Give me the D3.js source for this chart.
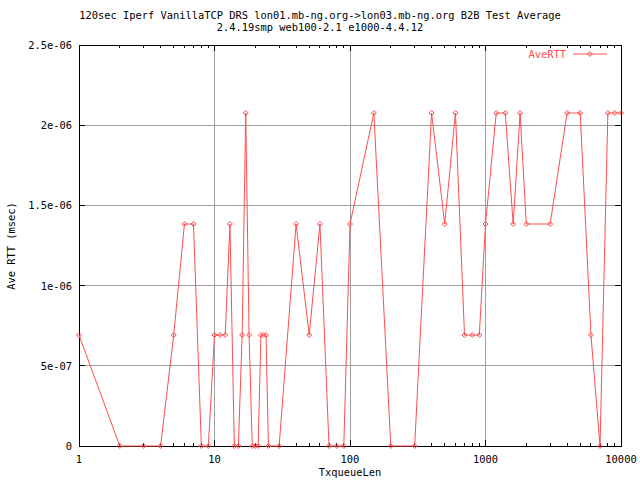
<!DOCTYPE html>
<html>
<head>
<meta charset="utf-8">
<script src="https://cdn.jsdelivr.net/npm/d3@7"></script>
<style>
  body { margin: 0; background: #fff; }
  svg { display: block; }
  text { font-family: "DejaVu Sans Mono", monospace; font-size: 10.4px; fill: #000; }
</style>
</head>
<body>
<svg id="chart" width="640" height="480"></svg>
<script>
// TxqueueLen values (x) and average RTT (y)
const queueLen = [1, 2, 3, 4, 5, 6, 7, 8, 9, 10, 11, 12, 13, 14, 15, 16, 17, 18, 19, 20,
  21, 22, 23, 24, 25, 30, 40, 50, 60, 70, 80, 90, 100, 150, 200, 300, 400, 500, 600, 700,
  800, 900, 1000, 1200, 1400, 1600, 1800, 2000, 3000, 4000, 5000, 6000, 7000, 8000, 9000, 10000];
const aveRTT = [6.92e-7, 0, 0, 0, 6.92e-7, 1.384e-6, 1.384e-6, 0, 0, 6.92e-7,
  6.92e-7, 6.92e-7, 1.384e-6, 0, 0, 6.92e-7, 2.076e-6, 6.92e-7, 0, 0,
  0, 6.92e-7, 6.92e-7, 6.92e-7, 0, 0, 1.384e-6, 6.92e-7, 1.384e-6, 0,
  0, 0, 1.384e-6, 2.076e-6, 0, 0, 2.076e-6, 1.384e-6, 2.076e-6, 6.92e-7,
  6.92e-7, 6.92e-7, 1.384e-6, 2.076e-6, 2.076e-6, 1.384e-6, 2.076e-6, 1.384e-6, 1.384e-6, 2.076e-6,
  2.076e-6, 6.92e-7, 0, 2.076e-6, 2.076e-6, 2.076e-6];

const xTicks = [1, 10, 100, 1000, 10000];
const yTicks = [0, 5e-7, 1e-6, 1.5e-6, 2e-6, 2.5e-6];
const yTickLabels = ['0', '5e-07', '1e-06', '1.5e-06', '2e-06', '2.5e-06'];

const titleLines = [
  '120sec Iperf VanillaTCP DRS lon01.mb-ng.org->lon03.mb-ng.org B2B Test Average',
  '2.4.19smp web100-2.1 e1000-4.4.12'
];

const red = '#ff4d4d';
const pLeft = 79, pRight = 621, pTop = 45, pBottom = 446;

const svg = d3.select('#chart');
const x = d3.scaleLog().domain([1, 10000]).range([pLeft, pRight]);
const y = d3.scaleLinear().domain([0, 2.5e-6]).range([pBottom, pTop]);

// grid
const grid = svg.append('g').attr('stroke', '#a0a0a0').attr('shape-rendering', 'crispEdges');
xTicks.slice(1, -1).forEach((t) => {
  grid.append('line').attr('x1', x(t)).attr('x2', x(t)).attr('y1', pTop).attr('y2', pBottom);
});
yTicks.slice(1, -1).forEach((t) => {
  grid.append('line').attr('x1', pLeft).attr('x2', pRight).attr('y1', y(t)).attr('y2', y(t));
});

// ticks, inward on all four sides
const minor = [];
for (let d = 1; d < 10000; d *= 10) for (let k = 2; k <= 9; k++) minor.push(d * k);
const ticks = svg.append('g').attr('stroke', '#000').attr('shape-rendering', 'crispEdges');
minor.forEach((t) => {
  ticks.append('line').attr('x1', x(t)).attr('x2', x(t)).attr('y1', pBottom).attr('y2', pBottom - 3);
  ticks.append('line').attr('x1', x(t)).attr('x2', x(t)).attr('y1', pTop).attr('y2', pTop + 3);
});
xTicks.forEach((t) => {
  ticks.append('line').attr('x1', x(t)).attr('x2', x(t)).attr('y1', pBottom).attr('y2', pBottom - 6);
  ticks.append('line').attr('x1', x(t)).attr('x2', x(t)).attr('y1', pTop).attr('y2', pTop + 6);
});
yTicks.forEach((t) => {
  ticks.append('line').attr('x1', pLeft).attr('x2', pLeft + 6).attr('y1', y(t)).attr('y2', y(t));
  ticks.append('line').attr('x1', pRight).attr('x2', pRight - 6).attr('y1', y(t)).attr('y2', y(t));
});

// border
svg.append('rect')
  .attr('x', pLeft).attr('y', pTop)
  .attr('width', pRight - pLeft).attr('height', pBottom - pTop)
  .attr('fill', 'none').attr('stroke', '#000').attr('shape-rendering', 'crispEdges');

// tick labels
svg.append('g').selectAll('text').data(xTicks).join('text')
  .attr('x', (d) => x(d)).attr('y', 463)
  .attr('text-anchor', 'middle')
  .text((d) => d);
svg.append('g').selectAll('text').data(yTicks).join('text')
  .attr('x', 72).attr('y', (d) => y(d) + 4)
  .attr('text-anchor', 'end')
  .text((d, i) => yTickLabels[i]);

// axis titles
svg.append('text').attr('x', 350).attr('y', 476).attr('text-anchor', 'middle').text('TxqueueLen');
svg.append('text')
  .attr('transform', 'translate(15,246) rotate(-90)')
  .attr('text-anchor', 'middle')
  .text('Ave RTT (msec)');

// title
svg.append('g').selectAll('text').data(titleLines).join('text')
  .attr('x', 320).attr('y', (d, i) => 19 + i * 12)
  .attr('text-anchor', 'middle')
  .text((d) => d);

// series
const pts = queueLen.map((q, i) => [q, aveRTT[i]]);
const line = d3.line().x((d) => x(d[0])).y((d) => y(d[1]));
svg.append('path').datum(pts)
  .attr('d', line)
  .attr('fill', 'none').attr('stroke', red).attr('stroke-width', 1);

const diamond = 'M0,-2.5L2.5,0L0,2.5L-2.5,0Z';
svg.append('g').selectAll('path').data(pts).join('path')
  .attr('transform', (d) => `translate(${x(d[0])},${y(d[1])})`)
  .attr('d', diamond)
  .attr('fill', 'none').attr('stroke', red).attr('stroke-width', 1);

// legend
const legendY = 54;
svg.append('text').attr('x', 566).attr('y', legendY + 4)
  .attr('text-anchor', 'end').style('fill', red).text('AveRTT');
svg.append('line').attr('x1', 573).attr('x2', 607).attr('y1', legendY).attr('y2', legendY)
  .attr('stroke', red);
svg.append('path').attr('transform', `translate(590,${legendY})`).attr('d', diamond)
  .attr('fill', 'none').attr('stroke', red);
</script>
</body>
</html>
